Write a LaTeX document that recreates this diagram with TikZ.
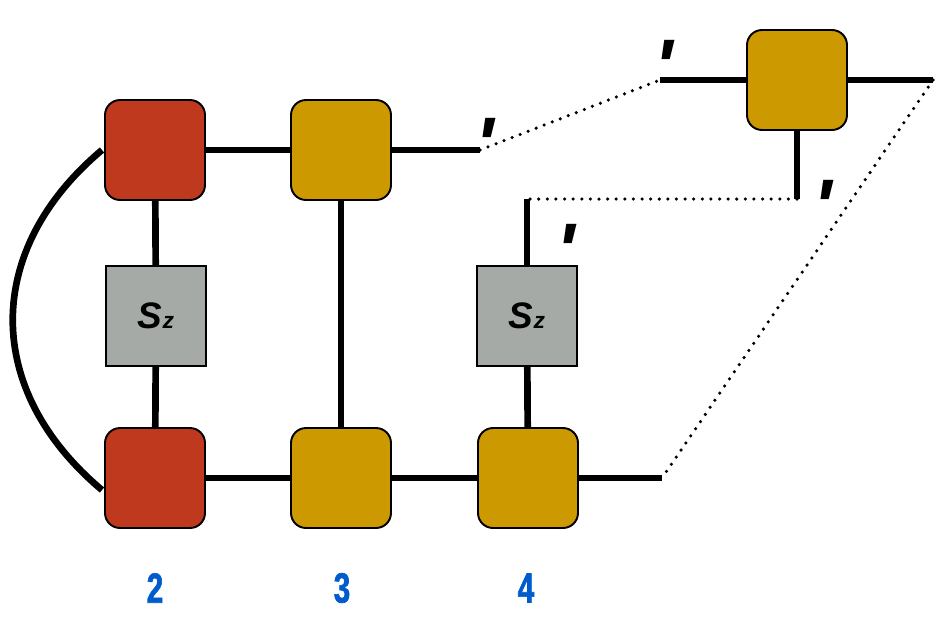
\documentclass[tikz,border=0pt]{standalone}
\usepackage{fontspec}
\setmainfont{Liberation Sans}
\newfontfamily\numfont[FakeStretch=0.7, FakeBold=1.5]{Liberation Sans}
\newfontfamily\prmfont{Liberation Sans}
\usepackage{tikz}
\usetikzlibrary{arrows}
\definecolor{tred}{RGB}{191,57,31}
\definecolor{tgold}{RGB}{204,153,0}
\definecolor{tgray}{RGB}{165,170,167}
\definecolor{tblue}{RGB}{0,92,204}

\begin{document}
\begin{tikzpicture}[x=0.02cm, y=-0.02cm,
    redt/.style={draw, line width=1.1pt, fill=tred, rounded corners=0.3cm, minimum size=2cm, inner sep=0pt},
    goldt/.style={draw, line width=1.1pt, fill=tgold, rounded corners=0.3cm, minimum size=2cm, inner sep=0pt},
    op/.style={draw, line width=1.1pt, fill=tgray, minimum size=2cm, inner sep=0pt, font=\fontsize{21}{21}\selectfont\bfseries\itshape},
    leg/.style={line width=3.8pt},
    dots/.style={line width=2pt, dash pattern=on 0pt off 4.9pt, line cap=round},
    prm/.style={anchor=north, inner sep=0pt, font=\prmfont\fontsize{44}{44}\selectfont\bfseries\itshape},
    num/.style={text=tblue, inner sep=0pt, font=\numfont\fontsize{24}{24}\selectfont\bfseries}]
        \useasboundingbox (0,0) rectangle (943,630);
        \node [redt] (2t) at (155,150) {};
        \node [op] (2s) at (156,316) {S\fontsize{13}{13}\selectfont z};
        \node [redt] (2b) at (155,478) {};
        \node [goldt] (3t) at (341,150) {};
        \node [goldt] (3b) at (341,478) {};
        \node [op] (4s) at (527,316) {S\fontsize{13}{13}\selectfont z};
        \node [goldt] (4b) at (528,478) {};
        \node [goldt] (5) at (797,80) {};
        \coordinate (e1) at (480,150);
        \coordinate (e2) at (660,80);
        \coordinate (e3) at (933,80);
        \coordinate (e4) at (797,199);
        \coordinate (e5) at (527,199);
        \coordinate (e6) at (662,478);
        \coordinate (a1) at (102,150);
        \coordinate (a2) at (102,490);
        \draw [leg] (2t) to (3t);
        \draw [leg] (3t) to (e1);
        \draw [leg] (2t) to (2s);
        \draw [leg] (2s) to (2b);
        \draw [leg] (3t) to (3b);
        \draw [leg] (2b) to (3b);
        \draw [leg] (3b) to (4b);
        \draw [leg] (4b) to (e6);
        \draw [leg] (4s) to (4b);
        \draw [leg] (e5) to (4s);
        \draw [leg] (e2) to (5);
        \draw [leg] (5) to (e3);
        \draw [leg] (5) to (e4);
        \draw [leg] (a1) .. controls (-17,250) and (-17,390) .. (a2);
        \draw [dots] (e1) to (e2);
        \draw [dots] (e4) to (e5);
        \draw [dots] (e3) to (e6);
        \node [prm] (p1) at (485,118) {'};
        \node [prm] (p2) at (664,40) {'};
        \node [prm] (p3) at (823,180) {'};
        \node [prm] (p4) at (566,224) {'};
        \node [num] (n2) at (155,588) {2};
        \node [num] (n3) at (342,588) {3};
        \node [num] (n4) at (526,588) {4};
      \end{tikzpicture}
\end{document}
